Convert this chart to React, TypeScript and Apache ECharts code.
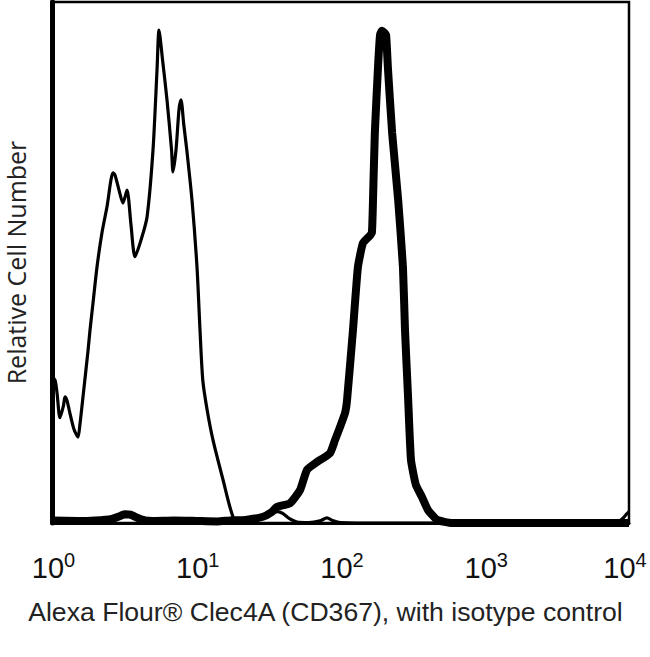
import React, { useEffect, useRef } from "react";
import * as echarts from "echarts";

// Isotype control (thin line)
const thinX = [1.0, 1.05, 1.083, 1.136, 1.2, 1.231, 1.27, 1.333, 1.42, 1.514, 1.56, 1.64, 1.776, 1.834, 1.924, 2.05, 2.22, 2.406, 2.648, 2.733, 2.914, 3.106, 3.311, 3.529, 3.762, 4.14, 4.557, 5.015, 5.345, 5.517, 5.84, 6.269, 6.74, 6.9, 7.24, 7.59, 7.84, 8.2, 8.6, 9.34, 10.12, 10.62, 11.1, 11.9, 13.07, 15.33, 17.98, 20, 24, 28, 32, 36.8, 40, 44, 50, 60, 72, 80.6, 88, 100, 200, 1000, 5000, 8000, 9000, 9600, 10000];
const thinY = [28, 27.4, 25, 20.2, 22.5, 24.2, 23.5, 21, 18, 16.5, 18.8, 24.2, 33, 37, 42.2, 49.1, 55.7, 60.7, 67.2, 66.8, 63.9, 61.4, 63.9, 57.2, 51.1, 54.3, 58.7, 71.6, 86.9, 94.6, 88.9, 81.2, 71.6, 67.4, 71.6, 79.3, 81.2, 76.4, 71.6, 62.0, 49.1, 37.0, 27.4, 21.7, 15.9, 8.3, 1.2, 0.3, 0.2, 0.9, 1.8, 2.2, 1.8, 0.9, 0.2, 0.1, 0.4, 1.0, 0.5, 0.1, 0, 0, 0, 0.1, 0.8, 1.7, 2.2];

// Clec4A (CD367) stained (thick line)
const thickX = [1, 1.5, 2, 2.6, 3.0, 3.2, 3.5, 3.9, 4.4, 5, 7, 10, 14, 17.1, 22, 29, 33, 36.3, 44.7, 52.4, 58.6, 68.7, 84.6, 91.6, 99.2, 107.5, 111, 122, 132, 143, 158, 165, 168, 173, 182, 188, 194, 200, 207, 213, 228, 251, 271, 280, 294, 308, 333, 367, 404, 467, 593, 1000, 10000];
const thickY = [0.5, 0.4, 0.5, 0.8, 1.4, 1.7, 1.6, 1.0, 0.5, 0.4, 0.5, 0.4, 0.3, 0.5, 0.6, 1.2, 2.0, 3.1, 3.8, 6.3, 10.2, 11.7, 13.4, 15.9, 18.4, 21.1, 23.6, 37.0, 49.1, 53.7, 55.0, 55.7, 62.0, 74.9, 87.5, 93.7, 94.5, 94.2, 93.7, 87.5, 74.9, 62.0, 49.1, 37.0, 24.2, 12.1, 7.3, 5.0, 2.5, 0.6, 0, 0, 0];

const tickExponents = [0, 1, 2, 3, 4];
const xTitle = "Alexa Flour® Clec4A (CD367), with isotype control";
const yTitle = "Relative Cell Number";

export default function App() {
  const ref = useRef<HTMLDivElement>(null);
  useEffect(() => {
    if (!ref.current) return;
    const chart = echarts.init(ref.current, null, { renderer: "svg" });
    const zip = (xs: number[], ys: number[]) => xs.map((x, i) => [x, ys[i]]);
    const lastExp = tickExponents[tickExponents.length - 1];
    chart.setOption({
      animation: false,
      backgroundColor: "#fff",
      grid: {
        left: 52,
        top: 2,
        right: 21,
        bottom: 134,
        containLabel: false,
        outerBoundsMode: "none",
        show: true,
        borderColor: "#000",
        borderWidth: 2.5,
        backgroundColor: "transparent",
      },
      xAxis: {
        type: "log",
        logBase: 10,
        min: 1,
        max: 10000,
        axisLine: { show: true, lineStyle: { color: "#000", width: 3 } },
        axisTick: { show: false },
        splitLine: { show: false },
        axisLabel: {
          margin: 27,
          showMinLabel: true,
          showMaxLabel: true,
          formatter: (v: number) => {
            const e = Math.round(Math.log10(v));
            if (!tickExponents.includes(e)) return "";
            return e === lastExp ? `{c|10}{t|${e}}` : `{b|10}{s|${e}}`;
          },
          rich: {
            b: { fontSize: 29, lineHeight: 36, color: "#111", fontFamily: "Liberation Sans", padding: [0, 0, 0, 3] },
            s: { fontSize: 20, lineHeight: 14, verticalAlign: "top", color: "#111", fontFamily: "Liberation Sans" },
            c: { fontSize: 29, lineHeight: 36, color: "#111", fontFamily: "Liberation Sans" },
            t: { fontSize: 20, lineHeight: 14, verticalAlign: "top", color: "#111", fontFamily: "Liberation Sans", padding: [0, 8, 0, 0] },
          },
        },
        name: xTitle,
        nameLocation: "middle",
        nameGap: 75,
        nameTextStyle: { fontSize: 26.6, color: "#222", fontFamily: "Liberation Sans", padding: [0, 30, 0, 0] },
      },
      yAxis: {
        type: "value",
        min: 0,
        max: 100,
        axisLine: { show: true, lineStyle: { color: "#000", width: 5 } },
        axisTick: { show: false },
        axisLabel: { show: false },
        splitLine: { show: false },
        name: yTitle,
        nameLocation: "middle",
        nameRotate: 90,
        nameGap: 24,
        nameTextStyle: { fontSize: 25, lineHeight: 25, color: "#222", fontFamily: "Open Sans" },
      },
      series: [
        {
          type: "line",
          name: "Isotype control",
          data: zip(thinX, thinY),
          showSymbol: false,
          smooth: 0.25,
          lineStyle: { color: "#000", width: 3.2, join: "round" },
          z: 3,
        },
        {
          type: "line",
          name: "Clec4A",
          data: zip(thickX, thickY),
          showSymbol: false,
          smooth: 0.15,
          lineStyle: { color: "#000", width: 8, join: "round" },
          z: 4,
        },
      ],
    });
    return () => chart.dispose();
  }, []);
  return <div ref={ref} style={{ width: 650, height: 657, position: "absolute", left: 0, top: 0 }} />;
}
